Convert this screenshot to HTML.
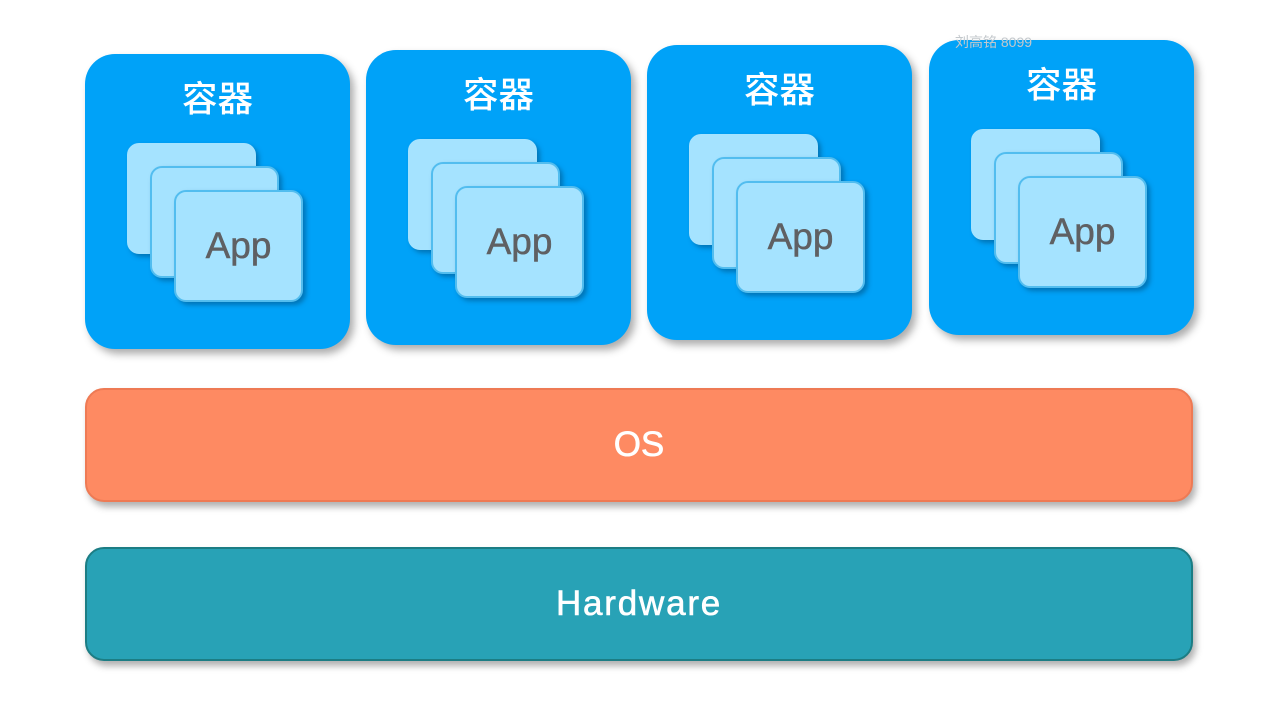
<!DOCTYPE html>
<html lang="zh">
<head>
<meta charset="utf-8">
<title>容器 Diagram</title>
<style>
html,body{margin:0;padding:0;background:#fff}
#stage{position:relative;width:1288px;height:726px;overflow:hidden;background:#fff;font-family:"Liberation Sans","Noto Sans CJK SC",sans-serif}
.box{position:absolute;box-sizing:border-box}
.c{width:265px;height:295px;background:#00a2f8;border-radius:30px;box-shadow:4px 5px 8px rgba(60,60,60,.42)}
.t{position:absolute;left:0;width:100%;top:21px;text-align:center;color:#fff;font:500 35.5px/44px "Noto Sans CJK SC",sans-serif}
.a{position:absolute;width:129px;height:112px;box-sizing:border-box;background:#a5e3ff;border:2px solid #52bdef;border-radius:12px;box-shadow:3px 3px 5px rgba(0,80,130,.55)}
.a1{left:42px;top:89px;height:111px;border-color:#a5e3ff}
.a2{left:65px;top:112px}
.a3{left:89px;top:136px}
.a3 span{position:absolute;left:0;right:0;top:32px;text-align:center;color:#5f6063;font:37px/44px "Liberation Sans",sans-serif;-webkit-text-stroke:.5px #5f6063}
.bar{left:85px;width:1108px;height:114px;border-radius:19px;color:#fff;text-align:center;box-shadow:3px 5px 7px rgba(60,60,60,.4);font:35px/110px "Liberation Sans",sans-serif;border:2px solid;-webkit-text-stroke:.6px #fff}
.os{top:388px;background:#fe8a62;border-color:#ee7a54}
.hw{top:547px;background:#28a2b6;border-color:#1c7d84;letter-spacing:1.8px}
.wm{position:absolute;left:955px;top:34px;color:#c3c8cc;font:14px/16px "Liberation Sans","Noto Sans CJK SC",sans-serif;white-space:nowrap}
</style>
</head>
<body>
<div id="stage">
  <div class="box c" style="left:85px;top:54px"><div class="t">容器</div><div class="a a1"></div><div class="a a2"></div><div class="a a3"><span>App</span></div></div>
  <div class="box c" style="left:366px;top:50px"><div class="t">容器</div><div class="a a1"></div><div class="a a2"></div><div class="a a3"><span>App</span></div></div>
  <div class="box c" style="left:647px;top:45px"><div class="t">容器</div><div class="a a1"></div><div class="a a2"></div><div class="a a3"><span>App</span></div></div>
  <div class="box c" style="left:929px;top:40px"><div class="t">容器</div><div class="a a1"></div><div class="a a2"></div><div class="a a3"><span>App</span></div></div>
  <div class="box bar os">OS</div>
  <div class="box bar hw">Hardware</div>
  <div class="wm">刘高铭 8099</div>
</div>
</body>
</html>
